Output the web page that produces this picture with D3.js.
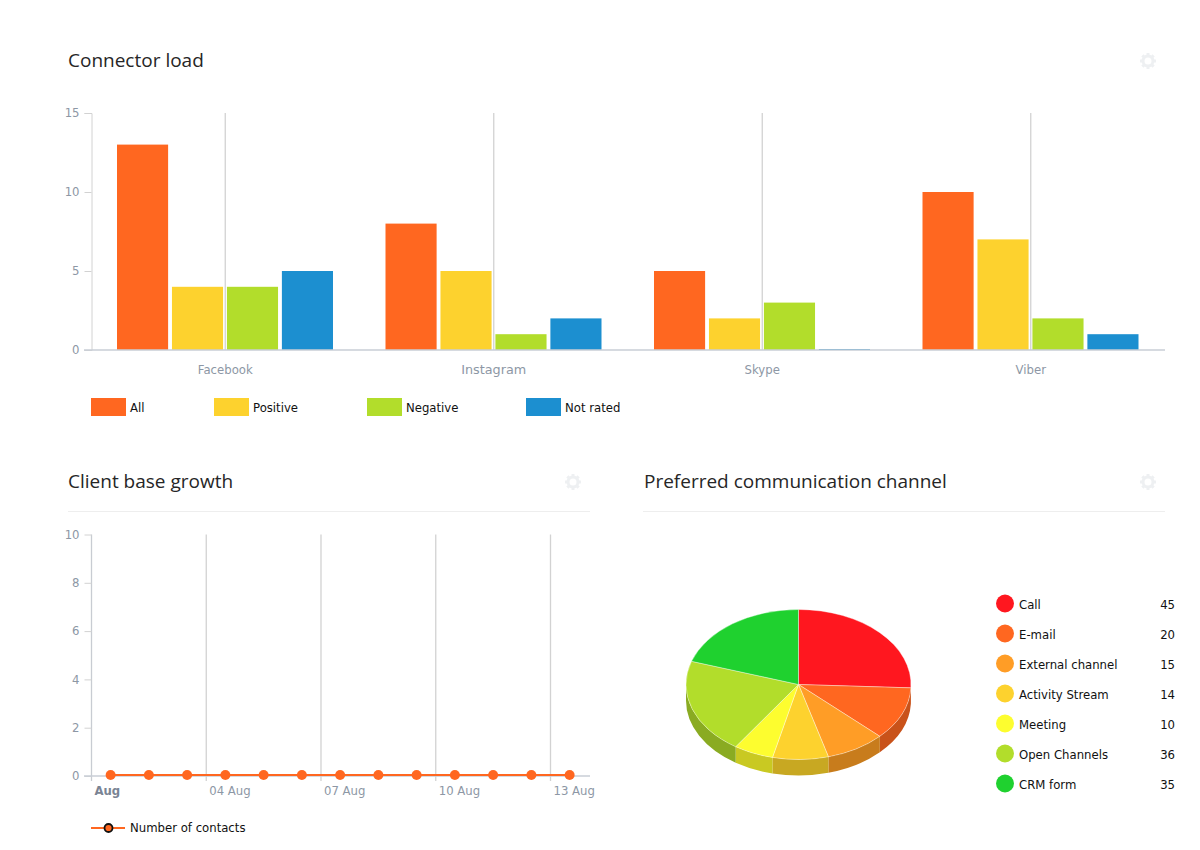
<!DOCTYPE html>
<html>
<head>
<meta charset="utf-8">
<script src="https://cdn.jsdelivr.net/npm/d3@7"></script>
<style>
html, body { margin: 0; padding: 0; background: #fff; }
text { font-family: "DejaVu Sans", sans-serif; }
.title { font-family: "Open Sans", sans-serif; font-size: 19px; fill: #262626; }
.tick-label { font-size: 11.7px; fill: #8d97a5; }
.legend-label { font-size: 11.7px; fill: #111; }
</style>
</head>
<body>
<svg id="chart" width="1200" height="850"></svg>
<script>
// connector load
const connectors = ["Facebook", "Instagram", "Skype", "Viber"];
const loadSeries = ["All", "Positive", "Negative", "Not rated"];
const allValues = [13, 8, 5, 10];
const positiveValues = [4, 5, 2, 7];
const negativeValues = [4, 1, 3, 2];
const notRatedValues = [5, 2, 0, 1];
const loadColors = ["#ff6720", "#fdd22e", "#b2dd2b", "#1c8fd0"];
const loadTicks = [0, 5, 10, 15];

// client base growth
const growthDays = ["2016-08-01", "2016-08-02", "2016-08-03", "2016-08-04", "2016-08-05", "2016-08-06", "2016-08-07",
    "2016-08-08", "2016-08-09", "2016-08-10", "2016-08-11", "2016-08-12", "2016-08-13"];
const growthValues = [0, 0, 0, 0, 0, 0, 0, 0, 0, 0, 0, 0, 0];
const growthTicks = [0, 2, 4, 6, 8, 10];
const growthDateTicks = ["2016-08-01", "2016-08-04", "2016-08-07", "2016-08-10", "2016-08-13"];
const growthDateLabels = ["Aug", "04 Aug", "07 Aug", "10 Aug", "13 Aug"];

// communication channels
const channels = ["Call", "E-mail", "External channel", "Activity Stream", "Meeting", "Open Channels", "CRM form"];
const channelValues = [45, 20, 15, 14, 10, 36, 35];
const channelColors = ["#ff171f", "#ff6720", "#ff9d26", "#fdd22e", "#fdfd2f", "#b2dd2b", "#1fd12f"];
const channelWalls = ["#c23a1a", "#c9521a", "#c87c1c", "#c8a822", "#c9c922", "#8aab22", "#159020"];

const svg = d3.select("#chart");

function drawTitle(text, x, y) {
    svg.append("text").attr("class", "title").attr("x", x).attr("y", y).text(text);
}

function drawGear(cx, cy) {
    const g = svg.append("g").attr("transform", `translate(${cx},${cy})`);
    g.selectAll("line")
        .data(d3.range(8))
        .enter()
        .append("line")
        .attr("x1", function (d) { return Math.cos(d * Math.PI / 4) * 4; })
        .attr("y1", function (d) { return Math.sin(d * Math.PI / 4) * 4; })
        .attr("x2", function (d) { return Math.cos(d * Math.PI / 4) * 8; })
        .attr("y2", function (d) { return Math.sin(d * Math.PI / 4) * 8; })
        .attr("stroke", "#eef0f2")
        .attr("stroke-width", 3);
    g.append("circle").attr("r", 5).attr("fill", "#fff").attr("stroke", "#eef0f2").attr("stroke-width", 3);
}

function drawConnectorLoad() {
    const x = d3.scaleBand().domain(connectors).range([91, 1165]);
    const inner = d3.scaleBand().domain(loadSeries).range([26, 242]).paddingInner(0.07);
    const y = d3.scaleLinear().domain([0, 15]).range([350, 113]);
    const seriesValues = [allValues, positiveValues, negativeValues, notRatedValues];

    svg.append("g").selectAll("line")
        .data(connectors)
        .enter()
        .append("line")
        .attr("x1", function (d) { return x(d) + x.bandwidth() / 2; })
        .attr("x2", function (d) { return x(d) + x.bandwidth() / 2; })
        .attr("y1", y(15))
        .attr("y2", y(0))
        .attr("stroke", "#d2d2d2")
        .attr("stroke-width", 1.3);

    const yAxis = d3.axisLeft(y).tickValues(loadTicks).tickSize(7).tickPadding(5);
    const yg = svg.append("g").attr("transform", "translate(91.5,0)").call(yAxis);
    yg.select(".domain").attr("stroke", "#d2d2d2");
    yg.selectAll(".tick line").attr("stroke", "#d2d2d2");
    yg.selectAll(".tick text").attr("class", "tick-label");

    loadSeries.forEach(function (name, s) {
        svg.append("g").selectAll("rect")
            .data(seriesValues[s])
            .enter()
            .append("rect")
            .attr("x", function (d, i) { return x(connectors[i]) + inner(name); })
            .attr("width", inner.bandwidth())
            .attr("y", function (d) { return Math.min(y(d), y(0) - 1); })
            .attr("height", function (d) { return Math.max(y(0) - y(d), 1); })
            .attr("fill", loadColors[s]);
    });

    svg.append("line")
        .attr("x1", 84).attr("x2", 1165)
        .attr("y1", y(0)).attr("y2", y(0))
        .attr("stroke", "#c9ced6").attr("stroke-width", 1.5);

    svg.append("g").selectAll("text")
        .data(connectors)
        .enter()
        .append("text")
        .attr("class", "tick-label")
        .attr("x", function (d) { return x(d) + x.bandwidth() / 2; })
        .attr("y", 374)
        .attr("text-anchor", "middle")
        .style("font-size", function (d) { return d === "Instagram" ? "12.8px" : null; })
        .text(function (d) { return d; });

    const legendX = [91, 214, 367, 526];
    const legend = svg.append("g").selectAll("g")
        .data(loadSeries)
        .enter()
        .append("g")
        .attr("transform", function (d, i) { return `translate(${legendX[i]},398)`; });
    legend.append("rect")
        .attr("width", 35).attr("height", 18)
        .attr("fill", function (d, i) { return loadColors[i]; });
    legend.append("text")
        .attr("class", "legend-label")
        .attr("x", 39).attr("y", 14)
        .text(function (d) { return d; });
}

function drawClientGrowth() {
    const parse = d3.utcParse("%Y-%m-%d");
    const x = d3.scaleUtc()
        .domain([parse("2016-08-01"), parse("2016-08-14")])
        .range([91.5, 588.75]);
    const y = d3.scaleLinear().domain([0, 10]).range([776, 534.5]);
    const dayCentre = function (d) { return x(d3.utcHour.offset(parse(d), 12)); };

    svg.append("g").selectAll("line")
        .data(growthDateTicks.slice(1))
        .enter()
        .append("line")
        .attr("x1", function (d) { return x(parse(d)); })
        .attr("x2", function (d) { return x(parse(d)); })
        .attr("y1", y(10))
        .attr("y2", 781)
        .attr("stroke", "#d2d2d2")
        .attr("stroke-width", 1.3);

    const yAxis = d3.axisLeft(y).tickValues(growthTicks).tickSize(7).tickPadding(5);
    const yg = svg.append("g").attr("transform", "translate(91.5,0)").call(yAxis);
    yg.select(".domain").attr("stroke", "#c8ccd2").attr("stroke-width", 1.3).attr("d", `M0,${y(10)}V781`);
    yg.selectAll(".tick line").attr("stroke", "#d2d2d2");
    yg.selectAll(".tick text").attr("class", "tick-label");

    svg.append("line")
        .attr("x1", 84).attr("x2", 590)
        .attr("y1", y(0)).attr("y2", y(0))
        .attr("stroke", "#c9ced6").attr("stroke-width", 1.5);

    svg.append("g").selectAll("text")
        .data(growthDateTicks)
        .enter()
        .append("text")
        .attr("class", "tick-label")
        .attr("x", function (d) { return x(parse(d)) + 3; })
        .attr("y", 795)
        .style("font-weight", function (d, i) { return i === 0 ? "bold" : "normal"; })
        .style("fill", function (d, i) { return i === 0 ? "#7a8494" : null; })
        .text(function (d, i) { return growthDateLabels[i]; });

    const line = d3.line()
        .x(function (d, i) { return dayCentre(growthDays[i]); })
        .y(function (d) { return y(d) - 1; });
    svg.append("path")
        .datum(growthValues)
        .attr("d", line)
        .attr("fill", "none")
        .attr("stroke", "#ff6720")
        .attr("stroke-width", 2);
    svg.append("g").selectAll("circle")
        .data(growthValues)
        .enter()
        .append("circle")
        .attr("cx", function (d, i) { return dayCentre(growthDays[i]); })
        .attr("cy", function (d) { return y(d) - 1; })
        .attr("r", 5)
        .attr("fill", "#ff6720");

    svg.append("line")
        .attr("x1", 91).attr("x2", 125)
        .attr("y1", 828).attr("y2", 828)
        .attr("stroke", "#ff6720").attr("stroke-width", 2);
    svg.append("circle")
        .attr("cx", 108.5).attr("cy", 828).attr("r", 4)
        .attr("fill", "#ff6720").attr("stroke", "#111").attr("stroke-width", 1.8);
    svg.append("text").attr("class", "legend-label").attr("x", 130).attr("y", 832).text("Number of contacts");
}

function drawChannels() {
    const cx = 798.5, cy = 684.5, rx = 112.5, ry = 75, depth = 16;
    const slices = d3.pie().sort(null)(channelValues);
    const arc = d3.arc().innerRadius(0).outerRadius(rx);

    // rim point for a pie angle, measured clockwise from the top
    const rim = function (a, drop) {
        return [cx + Math.sin(a) * rx, cy - Math.cos(a) * ry + drop];
    };
    const wallPath = function (s) {
        const a0 = Math.max(s.startAngle, Math.PI / 2);
        const a1 = Math.min(s.endAngle, Math.PI * 1.5);
        if (a1 <= a0) return null;
        const p = rim(a0, 0), q = rim(a1, 0), q2 = rim(a1, depth), p2 = rim(a0, depth);
        return `M${p}A${rx},${ry} 0 0 1 ${q}L${q2}A${rx},${ry} 0 0 0 ${p2}Z`;
    };

    svg.append("g").selectAll("path")
        .data(slices)
        .enter()
        .append("path")
        .attr("d", wallPath)
        .attr("fill", function (d, i) { return channelWalls[i]; });

    svg.append("g")
        .attr("transform", `translate(${cx},${cy}) scale(1,${ry / rx})`)
        .selectAll("path")
        .data(slices)
        .enter()
        .append("path")
        .attr("d", arc)
        .attr("fill", function (d, i) { return channelColors[i]; })
        .attr("stroke", "#fff")
        .attr("stroke-opacity", 0.45)
        .attr("stroke-width", 1);

    const rowY = d3.scalePoint().domain(channels).range([603.5, 783.5]);
    const row = svg.append("g").selectAll("g")
        .data(channels)
        .enter()
        .append("g")
        .attr("transform", function (d) { return `translate(0,${rowY(d)})`; });
    row.append("circle")
        .attr("cx", 1005).attr("r", 9)
        .attr("fill", function (d, i) { return channelColors[i]; });
    row.append("text")
        .attr("class", "legend-label")
        .attr("x", 1019).attr("y", 5)
        .text(function (d) { return d; });
    row.append("text")
        .attr("class", "legend-label")
        .attr("x", 1175).attr("y", 5)
        .attr("text-anchor", "end")
        .text(function (d, i) { return channelValues[i]; });
}

document.addEventListener("DOMContentLoaded", function () {
    drawTitle("Connector load", 68, 67);
    drawTitle("Client base growth", 68, 488);
    drawTitle("Preferred communication channel", 644, 488);
    drawGear(1148, 61);
    drawGear(573, 482);
    drawGear(1148, 482);
    svg.append("line").attr("x1", 68).attr("x2", 590).attr("y1", 511.5).attr("y2", 511.5).attr("stroke", "#eeeeee");
    svg.append("line").attr("x1", 643).attr("x2", 1165).attr("y1", 511.5).attr("y2", 511.5).attr("stroke", "#eeeeee");
    drawConnectorLoad();
    drawClientGrowth();
    drawChannels();
});
</script>
</body>
</html>
